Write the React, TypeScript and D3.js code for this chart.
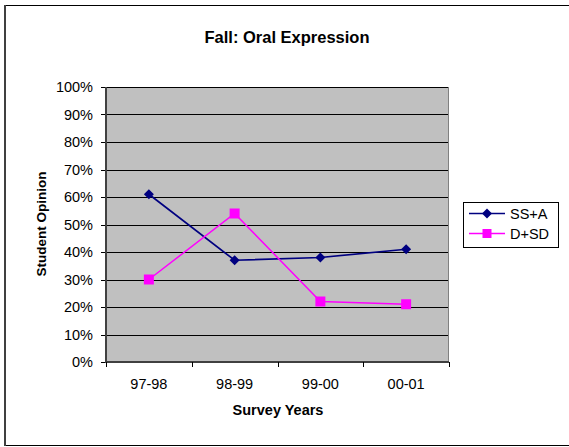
import React from 'react';
import * as d3 from 'd3';

const years = ['97-98', '98-99', '99-00', '00-01'];
const ssA = [61, 37, 38, 41];
const dSd = [30, 54, 22, 21];
const yTicks = [0, 10, 20, 30, 40, 50, 60, 70, 80, 90, 100];

const font = 'Liberation Sans, Arial, sans-serif';

const App: React.FC = () => {
  const plot = { left: 106, right: 449, top: 87, bottom: 362 };

  const x = d3.scaleBand<string>().domain(years).range([plot.left, plot.right]);
  const y = d3.scaleLinear().domain([0, 100]).range([plot.bottom, plot.top]);
  const cx = (d: string) => (x(d) as number) + x.bandwidth() / 2;

  const line = d3
    .line<number>()
    .x((_, i) => cx(years[i]))
    .y((d) => y(d));

  const diamond = (px: number, py: number, r = 5) =>
    `M${px},${py - r}L${px + r},${py}L${px},${py + r}L${px - r},${py}Z`;

  return (
    <svg
      width={569}
      height={447}
      style={{ position: 'absolute', left: 0, top: 0, background: '#fff' }}
    >
      <rect x={4.5} y={5.5} width={570} height={440} fill="#fff" stroke="#000" strokeWidth={1} />
      <line x1={5} y1={5} x2={5} y2={446} stroke="#404040" strokeWidth={2} />

      <text x={287} y={43} textAnchor="middle" fontFamily={font} fontWeight="bold" fontSize={16.5}>
        Fall: Oral Expression
      </text>

      <rect x={plot.left} y={plot.top} width={plot.right - plot.left} height={plot.bottom - plot.top} fill="#c0c0c0" />

      {yTicks.map((t) => (
        <g key={t}>
          {t > 0 && (
            <line x1={plot.left} x2={plot.right} y1={Math.round(y(t)) + 0.5} y2={Math.round(y(t)) + 0.5} stroke="#000" strokeWidth={1} />
          )}
          <line x1={plot.left - 5} x2={plot.left} y1={Math.round(y(t)) + 0.5} y2={Math.round(y(t)) + 0.5} stroke="#000" />
          <text x={93} y={y(t) + 5} textAnchor="end" fontFamily={font} fontSize={14.5} fill="#000">
            {t}%
          </text>
        </g>
      ))}

      <line x1={plot.right - 0.5} x2={plot.right - 0.5} y1={plot.top} y2={plot.bottom} stroke="#808080" />
      <line x1={plot.left} x2={plot.left} y1={plot.top} y2={plot.bottom + 1} stroke="#404040" strokeWidth={2} />
      <line x1={plot.left} x2={plot.right} y1={plot.bottom} y2={plot.bottom} stroke="#404040" strokeWidth={2} />

      {[...years.map((d) => x(d) as number), plot.right].map((tx, i) => (
        <line key={i} x1={Math.round(tx) + 0.5} x2={Math.round(tx) + 0.5} y1={plot.bottom} y2={plot.bottom + 5} stroke="#000" />
      ))}
      {years.map((d) => (
        <text key={d} x={cx(d)} y={389} textAnchor="middle" fontFamily={font} fontSize={14.5}>
          {d}
        </text>
      ))}

      <text x={278} y={415} textAnchor="middle" fontFamily={font} fontWeight="bold" fontSize={14.5}>
        Survey Years
      </text>
      <text
        transform={`translate(46,224) rotate(-90)`}
        textAnchor="middle"
        fontFamily={font}
        fontWeight="bold"
        fontSize={13.5}
      >
        Student Opinion
      </text>

      <path d={line(ssA) || ''} fill="none" stroke="#000080" strokeWidth={1.7} />
      {ssA.map((v, i) => (
        <path key={i} d={diamond(cx(years[i]), y(v))} fill="#000080" />
      ))}
      <path d={line(dSd) || ''} fill="none" stroke="#ff00ff" strokeWidth={1.5} />
      {dSd.map((v, i) => (
        <rect key={i} x={cx(years[i]) - 5} y={y(v) - 5} width={10} height={10} fill="#ff00ff" />
      ))}

      <rect x={463.5} y={202.5} width={95} height={45} fill="#fff" stroke="#000" />
      <line x1={469} x2={505} y1={213.5} y2={213.5} stroke="#000080" strokeWidth={1.5} />
      <path d={diamond(487, 213.5)} fill="#000080" />
      <text x={510} y={218.5} fontFamily={font} fontSize={14.5}>SS+A</text>
      <line x1={469} x2={505} y1={233.5} y2={233.5} stroke="#ff00ff" strokeWidth={1.5} />
      <rect x={482.5} y={229} width={9} height={9} fill="#ff00ff" />
      <text x={510} y={239} fontFamily={font} fontSize={14.5}>D+SD</text>
    </svg>
  );
};

export default App;
